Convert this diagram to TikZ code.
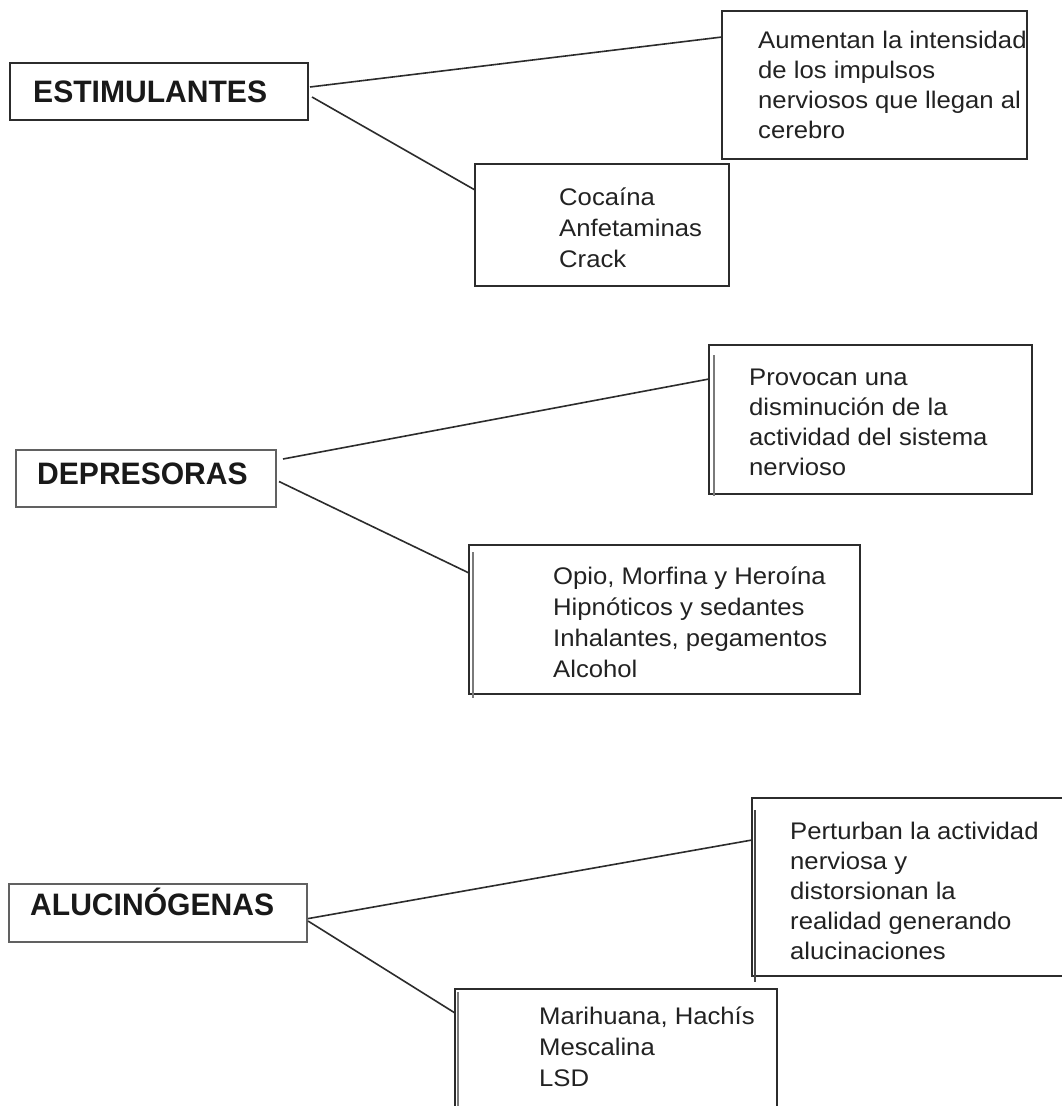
\documentclass[tikz,border=0pt]{standalone}
\usepackage{fontspec}
\setmainfont{Liberation Sans}
\newfontfamily\bodyfont[FakeStretch=1.07]{Liberation Sans}
\newfontfamily\headfont[FakeStretch=0.97]{Liberation Sans}
\usetikzlibrary{calc}
\definecolor{ink}{HTML}{222222}
\definecolor{rulecol}{HTML}{2C2C2C}
\definecolor{softrule}{HTML}{7A7A7A}
% left-aligned stack of lines whose baseline is the first line
\newcommand{\stack}[1]{\begin{tabular}[t]{@{}l@{}}#1\end{tabular}}

\begin{document}
\begin{tikzpicture}[x=1pt,y=-1pt,
  box/.style={draw=rulecol, line width=1.8pt, inner sep=0pt, outer sep=0pt, anchor=north west},
  lightbox/.style={box, draw=black!62, line width=1.4pt},
  head/.style={font=\headfont\bfseries\fontsize{31}{36}\selectfont, text=black!90, inner sep=0pt, anchor=base west},
  body/.style={font=\bodyfont\fontsize{24}{30}\selectfont, text=ink, inner sep=0pt, anchor=base west},
  bodyloose/.style={body, font=\bodyfont\fontsize{24}{31}\selectfont},
  link/.style={draw=rulecol, line width=1.6pt},
  innerline/.style={draw=softrule, line width=1.3pt}]

\fill[white] (0,0) rectangle (1061,1106);
\useasboundingbox (0,0) rectangle (1061,1106);

% --- Estimulantes ---
\node[box, line width=2.6pt, minimum width=298pt, minimum height=57pt] (est) at (10,63) {};
\node[head] (estT) at (33,102.7) {ESTIMULANTES};
\node[box, minimum width=305pt, minimum height=148pt] (aum) at (722,11) {};
\node[body] (aumT) at (758,48) {\stack{Aumentan la intensidad\\de los impulsos\\nerviosos que llegan al\\cerebro}};
\node[box, minimum width=254pt, minimum height=122pt] (coc) at (475,164) {};
\node[bodyloose] (cocT) at (559,205) {\stack{Cocaína\\Anfetaminas\\Crack}};

% --- Depresoras ---
\node[lightbox, minimum width=260pt, minimum height=57pt] (dep) at (16,450) {};
\node[head] (depT) at (37,484.3) {DEPRESORAS};
\node[box, minimum width=323pt, minimum height=149pt] (prov) at (709,345) {};
\node[body] (provT) at (749,385) {\stack{Provocan una\\disminución de la\\actividad del sistema\\nervioso}};
\node[box, minimum width=391pt, minimum height=149pt] (opio) at (469,545) {};
\node[bodyloose] (opioT) at (553,584) {\stack{Opio, Morfina y Heroína\\Hipnóticos y sedantes\\Inhalantes, pegamentos\\Alcohol}};

% --- Alucinógenas ---
\node[lightbox, minimum width=298pt, minimum height=58pt] (alu) at (9,884) {};
\node[head] (aluT) at (30,915.7) {ALUCINÓGENAS};
\node[box, minimum width=320pt, minimum height=178pt] (pert) at (752,798) {};
\node[body] (pertT) at (790,839) {\stack{Perturban la actividad\\nerviosa y\\distorsionan la\\realidad generando\\alucinaciones}};
\node[box, minimum width=322pt, minimum height=150pt] (mari) at (455,989) {};
\node[bodyloose] (mariT) at (539,1024) {\stack{Marihuana, Hachís\\Mescalina\\LSD}};

% doubled left edges
\draw[innerline] ($(prov.north west)+(5,10)$) -- ($(prov.south west)+(5,2)$);
\draw[innerline] ($(opio.north west)+(4,7)$) -- ($(opio.south west)+(4,4)$);
\draw[innerline, draw=black!72, line width=1.6pt] ($(pert.north west)+(3,12)$) -- ($(pert.south west)+(3,6)$);
\draw[innerline] ($(mari.north west)+(3,3)$) -- ($(mari.south west)+(3,0)$);

% connectors
\draw[link] ($(est.east)+(2,-4.5)$) -- ($(aum.west)+(0,-48)$);
\draw[link] ($(est.east)+(4,5.5)$) -- ($(coc.west)+(0,-35)$);
\draw[link] ($(dep.east)+(7,-19.5)$) -- ($(prov.west)+(0,-40.5)$);
\draw[link] ($(dep.east)+(3,3)$) -- ($(opio.west)+(0,-46.5)$);
\draw[link] ($(alu.east)+(1,5.6)$) -- ($(pert.west)+(0,-47)$);
\draw[link] ($(alu.east)+(1,8)$) -- ($(mari.west)+(0,-51)$);
\end{tikzpicture}
\end{document}
